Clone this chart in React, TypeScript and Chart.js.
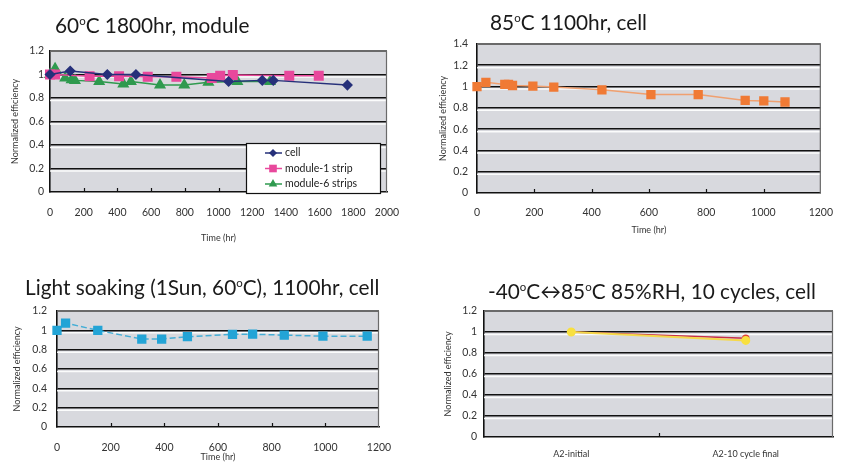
import React, { useEffect, useRef } from "react";
import { Chart, registerables } from "chart.js";
Chart.register(...registerables);

// ---------- Data ----------
// Panel 1: 60°C 1800hr, module
const p1CellX = [0, 120, 340, 510, 1060, 1260, 1325, 1765];
const p1CellY = [1.0, 1.03, 1.0, 1.0, 0.94, 0.95, 0.95, 0.91];
const p1Strip1X = [0, 30, 235, 410, 580, 750, 960, 1010, 1085, 1420, 1595];
const p1Strip1Y = [1.0, 1.0, 0.985, 0.985, 0.98, 0.98, 0.97, 0.99, 0.995, 0.99, 0.99];
const p1Strip6X = [0, 30, 90, 128, 148, 292, 435, 480, 653, 797, 940, 1112, 1306];
const p1Strip6Y = [1.0, 1.05, 0.97, 0.955, 0.95, 0.94, 0.92, 0.94, 0.91, 0.91, 0.935, 0.94, 0.94];
const p1Labels = ["cell", "module-1 strip", "module-6 strips"];

// Panel 2: 85°C 1100hr, cell
const p2X = [0, 31, 97, 110, 124, 195, 268, 436, 607, 772, 936, 1001, 1075];
const p2Y = [1.0, 1.04, 1.02, 1.02, 1.01, 1.005, 0.995, 0.97, 0.925, 0.925, 0.87, 0.865, 0.855];

// Panel 3: Light soaking
const p3X = [0, 32, 152, 316, 390, 486, 654, 729, 847, 991, 1156];
const p3Y = [1.0, 1.075, 1.0, 0.91, 0.91, 0.934, 0.958, 0.96, 0.95, 0.94, 0.94];

// Panel 4: thermal cycles
const p4Categories = ["A2-initial", "A2-10 cycle final"];
const p4Red = [1.0, 0.94];
const p4Yellow = [1.0, 0.92];

const yTitle = "Normalized efficiency";
const xTitle = "Time (hr)";

const FONT = "Lato, 'Open Sans', sans-serif";
const zip = (xs: number[], ys: number[]) => xs.map((x, i) => ({ x, y: ys[i] }));

// ---------- Plugins ----------
const plotBg = {
  id: "plotBg",
  beforeDraw(chart: any) {
    const { ctx, chartArea: a } = chart;
    ctx.save();
    ctx.fillStyle = "#d8d9de";
    ctx.fillRect(a.left, a.top, a.right - a.left, a.bottom - a.top);
    ctx.restore();
  },
  beforeDatasetsDraw(chart: any) {
    const { ctx, chartArea: a, scales } = chart;
    const y = scales.y;
    ctx.save();
    ctx.strokeStyle = "rgba(255,255,255,0.9)";
    ctx.lineWidth = 1.5;
    y.ticks.forEach((t: any) => {
      if (t.value === y.min || t.value === y.max) return;
      const py = y.getPixelForValue(t.value) + 2.5;
      ctx.beginPath();
      ctx.moveTo(a.left, py);
      ctx.lineTo(a.right, py);
      ctx.stroke();
    });
    ctx.strokeStyle = "#6a6a6a";
    ctx.lineWidth = 1.2;
    ctx.beginPath();
    ctx.moveTo(a.left, a.top + 0.5);
    ctx.lineTo(a.right - 0.5, a.top + 0.5);
    ctx.lineTo(a.right - 0.5, a.bottom);
    ctx.stroke();
    // small inward tick marks on the x axis
    const x = scales.x;
    ctx.strokeStyle = "#111";
    ctx.lineWidth = 1.2;
    if (x.type === "linear") {
      x.ticks.forEach((t: any) => {
        if (t.value === x.min || t.value === x.max) return;
        const px = Math.round(x.getPixelForValue(t.value)) + 0.5;
        ctx.beginPath();
        ctx.moveTo(px, a.bottom);
        ctx.lineTo(px, a.bottom - 4);
        ctx.stroke();
      });
    } else {
      const px = Math.round((a.left + a.right) / 2) + 0.5;
      ctx.beginPath();
      ctx.moveTo(px, a.bottom);
      ctx.lineTo(px, a.bottom - 4);
      ctx.stroke();
    }
    ctx.restore();
  },
};

function drawMarker(ctx: CanvasRenderingContext2D, style: string, x: number, y: number, r: number, color: string) {
  ctx.fillStyle = color;
  ctx.beginPath();
  if (style === "rectRot") {
    ctx.moveTo(x, y - r);
    ctx.lineTo(x + r, y);
    ctx.lineTo(x, y + r);
    ctx.lineTo(x - r, y);
  } else if (style === "rect") {
    const s = r * Math.SQRT1_2;
    ctx.rect(x - s, y - s, 2 * s, 2 * s);
  } else {
    ctx.moveTo(x, y - r);
    ctx.lineTo(x + r * 0.87, y + r * 0.5);
    ctx.lineTo(x - r * 0.87, y + r * 0.5);
  }
  ctx.closePath();
  ctx.fill();
}

const insideLegend = {
  id: "insideLegend",
  afterDatasetsDraw(chart: any) {
    const { ctx, chartArea: a } = chart;
    const w = 134, h = 50;
    const x0 = a.right - 7 - w, y0 = a.bottom + 1 - h;
    ctx.save();
    ctx.fillStyle = "#fff";
    ctx.fillRect(x0, y0, w, h);
    ctx.strokeStyle = "#111";
    ctx.lineWidth = 1.2;
    ctx.strokeRect(x0 + 0.5, y0 + 0.5, w, h);
    chart.data.datasets.forEach((ds: any, i: number) => {
      const cy = y0 + 10 + i * 15.5;
      ctx.strokeStyle = ds.borderColor;
      ctx.lineWidth = 1.5;
      ctx.beginPath();
      ctx.moveTo(x0 + 19, cy);
      ctx.lineTo(x0 + 36, cy);
      ctx.stroke();
      drawMarker(ctx, ds.pointStyle, x0 + 27, cy, ds.pointRadius * 0.9, ds.pointBackgroundColor);
      ctx.fillStyle = "#222";
      ctx.font = `10.5px ${FONT}`;
      ctx.textBaseline = "middle";
      ctx.textAlign = "left";
      ctx.fillText(ds.label, x0 + 39, cy);
    });
    ctx.restore();
  },
};

// ---------- Config builder ----------
type Geo = {
  yW: number; padTop: number; padRight: number; xH: number;
  yTitlePad: number; yTickPad: number; xTickPad: number; xTitlePad: number;
};

function yAxis(max: number, g: Geo) {
  return {
    min: 0,
    max,
    afterFit: (s: any) => { s.width = g.yW; },
    ticks: {
      stepSize: 0.2,
      padding: g.yTickPad,
      color: "#333",
      font: { family: FONT, size: 10.5 },
      callback: (v: any) => String(Math.round(Number(v) * 10) / 10),
    },
    grid: {
      drawTicks: false,
      color: (c: any) => (c.tick && c.tick.value === 0 ? "rgba(0,0,0,0)" : c.tick && c.tick.value === max ? "#6a6a6a" : "#111"),
      lineWidth: (c: any) => (c.tick && c.tick.value === max ? 1.2 : 1.6),
    },
    border: { display: true, color: "#111", width: 1.6 },
    title: {
      display: true,
      text: yTitle,
      color: "#333",
      font: { family: FONT, size: 9 },
      padding: { top: g.yTitlePad, bottom: 0 },
    },
  };
}

function xLinear(max: number, g: Geo, showTitle: boolean) {
  return {
    type: "linear",
    min: 0,
    max,
    afterFit: (s: any) => { s.height = g.xH; },
    ticks: {
      stepSize: 200,
      padding: g.xTickPad,
      color: "#333",
      maxRotation: 0,
      font: { family: FONT, size: 10.5 },
      callback: (v: any) => String(v),
    },
    grid: { display: false, drawTicks: false },
    border: { display: true, color: "#111", width: 1.6 },
    title: {
      display: showTitle,
      text: xTitle,
      color: "#333",
      font: { family: FONT, size: 9 },
      padding: { top: 0, bottom: g.xTitlePad },
    },
  };
}

function baseOpts(g: Geo, scales: any) {
  return {
    responsive: false,
    maintainAspectRatio: false,
    animation: false,
    layout: { padding: { top: g.padTop, right: g.padRight, left: 0, bottom: 0 } },
    plugins: { legend: { display: false }, tooltip: { enabled: false } },
    scales,
  };
}

function config1(): any {
  const g: Geo = { yW: 50, padTop: 51, padRight: 33, xH: 52, yTitlePad: 9.6, yTickPad: 6, xTickPad: 14, xTitlePad: 0.6 };
  const mk = (label: string, xs: number[], ys: number[], color: string, style: string, r: number) => ({
    label, data: zip(xs, ys), borderColor: color, backgroundColor: color,
    pointBackgroundColor: color, pointBorderColor: color, pointStyle: style, pointRadius: r,
    borderWidth: 1.5, tension: 0, clip: false,
  });
  return {
    type: "line",
    data: {
      datasets: [
        mk(p1Labels[0], p1CellX, p1CellY, "#26307a", "rectRot", 4.5),
        mk(p1Labels[1], p1Strip1X, p1Strip1Y, "#e8489c", "rect", 6),
        mk(p1Labels[2], p1Strip6X, p1Strip6Y, "#2f9a4f", "triangle", 5.5),
      ],
    },
    options: baseOpts(g, { x: xLinear(2000, g, true), y: yAxis(1.2, g) }),
    plugins: [plotBg, insideLegend],
  };
}

function config2(): any {
  const g: Geo = { yW: 57, padTop: 44, padRight: 17, xH: 47, yTitlePad: 17.6, yTickPad: 9, xTickPad: 13, xTitlePad: 4.6 };
  return {
    type: "line",
    data: {
      datasets: [{
        label: "cell", data: zip(p2X, p2Y), borderColor: "#f0a070", backgroundColor: "#f07a35",
        pointBackgroundColor: "#f07a35", pointBorderColor: "#f07a35", pointStyle: "rect", pointRadius: 5.5,
        borderWidth: 1.5, tension: 0, clip: false,
      }],
    },
    options: baseOpts(g, { x: xLinear(1200, g, true), y: yAxis(1.4, g) }),
    plugins: [plotBg],
  };
}

function config3(): any {
  const g: Geo = { yW: 57, padTop: 71, padRight: 41, xH: 41, yTitlePad: 11.6, yTickPad: 10, xTickPad: 14, xTitlePad: 5.6 };
  return {
    type: "line",
    data: {
      datasets: [{
        label: "cell", data: zip(p3X, p3Y), borderColor: "#45aed6", backgroundColor: "#23a4d6",
        pointBackgroundColor: "#23a4d6", pointBorderColor: "#23a4d6", pointStyle: "rect", pointRadius: 5.5,
        borderWidth: 1.5, borderDash: [6, 3], tension: 0, clip: false,
      }],
    },
    options: baseOpts(g, { x: xLinear(1200, g, true), y: yAxis(1.2, g) }),
    plugins: [plotBg],
  };
}

function config4(): any {
  const g: Geo = { yW: 64, padTop: 71, padRight: 13, xH: 31, yTitlePad: 22.6, yTickPad: 7, xTickPad: 12, xTitlePad: 0 };
  return {
    type: "line",
    data: {
      labels: p4Categories,
      datasets: [
        {
          label: "red", data: p4Red, borderColor: "#c8304a", backgroundColor: "#c8304a",
          pointBackgroundColor: "#e0403a", pointBorderColor: "#e0403a", pointRadius: 3,
          borderWidth: 1.5, tension: 0, clip: false, order: 2,
        },
        {
          label: "yellow", data: p4Yellow, borderColor: "#f5d84a", backgroundColor: "#f5d84a",
          pointBackgroundColor: "#f8e040", pointBorderColor: "#f8e040", pointRadius: 3.5,
          borderWidth: 2, tension: 0, clip: false, order: 1,
        },
      ],
    },
    options: baseOpts(g, {
      x: {
        type: "category",
        offset: true,
        afterFit: (s: any) => { s.height = g.xH; },
        ticks: { padding: g.xTickPad, color: "#333", maxRotation: 0, font: { family: FONT, size: 9 } },
        grid: { display: false, drawTicks: false },
        border: { display: true, color: "#111", width: 1.6 },
      },
      y: yAxis(1.2, g),
    }),
    plugins: [plotBg],
  };
}

// ---------- Components ----------
function Panel({ left, top, width, height, make }: { left: number; top: number; width: number; height: number; make: () => any }) {
  const ref = useRef<HTMLCanvasElement | null>(null);
  useEffect(() => {
    if (!ref.current) return;
    const chart = new Chart(ref.current, make());
    return () => chart.destroy();
  }, []);
  return (
    <canvas
      ref={ref}
      width={width}
      height={height}
      style={{ position: "absolute", left, top, width, height }}
    />
  );
}

const supStyle: React.CSSProperties = { fontSize: "0.55em", verticalAlign: "0.7em" };

function Title({ left, top, children }: { left: number; top: number; children: React.ReactNode }) {
  return (
    <div
      style={{
        position: "absolute", left, top, fontFamily: FONT, fontSize: 20.8, lineHeight: "22px",
        color: "#1a1a1a", whiteSpace: "nowrap",
      }}
    >
      {children}
    </div>
  );
}

export default function App() {
  return (
    <div style={{ position: "fixed", left: 0, top: 0, width: 846, height: 468, background: "#fff", overflow: "hidden" }}>
      <Panel left={0} top={0} width={420} height={244} make={config1} />
      <Panel left={420} top={0} width={426} height={240} make={config2} />
      <Panel left={0} top={240} width={420} height={228} make={config3} />
      <Panel left={420} top={240} width={426} height={228} make={config4} />
      <Title left={55} top={10}>60<span style={supStyle}>o</span>C 1800hr, module</Title>
      <Title left={490} top={7}>85<span style={supStyle}>o</span>C 1100hr, cell</Title>
      <Title left={25} top={272}>Light soaking (1Sun, 60<span style={supStyle}>o</span>C), 1100hr, cell</Title>
      <Title left={488} top={276}>-40<span style={supStyle}>o</span>C↔85<span style={supStyle}>o</span>C 85%RH, 10 cycles, cell</Title>
    </div>
  );
}
